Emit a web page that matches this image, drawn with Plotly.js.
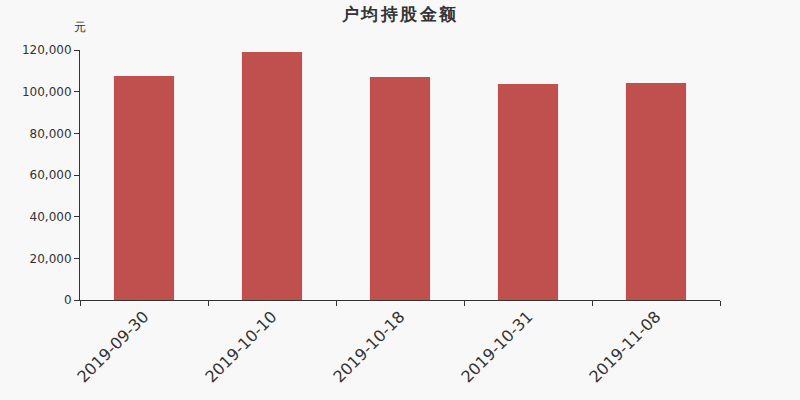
<!DOCTYPE html>
<html>
<head>
<meta charset="utf-8">
<script src="https://cdn.plot.ly/plotly-3.0.1.min.js"></script>
<style>
  html, body { margin: 0; padding: 0; background: #f8f8f8; }
  #chart { width: 800px; height: 400px; }
  .gtitle { letter-spacing: 2.5px; }
</style>
</head>
<body>
<div id="chart"></div>
<script>
// report dates and average holding value per account (yuan)
var dates = ['2019-09-30', '2019-10-10', '2019-10-18', '2019-10-31', '2019-11-08'];
var amounts = [107500, 119000, 107000, 103700, 104200];
var yTicks = [0, 20000, 40000, 60000, 80000, 100000, 120000];
var yTickText = ['0', '20,000', '40,000', '60,000', '80,000', '100,000', '120,000'];

var trace = {
  x: dates,
  y: amounts,
  type: 'bar',
  marker: { color: '#c0504d' },
  hoverinfo: 'x+y'
};

var layout = {
  width: 800,
  height: 400,
  paper_bgcolor: '#f8f8f8',
  plot_bgcolor: '#f8f8f8',
  font: { family: 'DejaVu Sans, sans-serif', color: '#333', size: 12 },
  margin: { l: 80, r: 80, t: 50, b: 100 },
  bargap: 0.53,
  showlegend: false,
  title: {
    text: '<b>户均持股金额</b>',
    x: 0.5,
    xanchor: 'center',
    y: 0.965,
    yanchor: 'middle',
    font: { size: 17, color: '#333' }
  },
  xaxis: {
    type: 'category',
    tickangle: -45,
    tickfont: { size: 16, color: '#333' },
    ticks: 'outside',
    tickson: 'boundaries',
    ticklen: 5,
    tickcolor: '#333',
    showline: true,
    linecolor: '#333',
    showgrid: false,
    zeroline: false
  },
  yaxis: {
    range: [0, 120000],
    tickvals: yTicks,
    ticktext: yTickText,
    tickfont: { size: 12, color: '#333' },
    ticks: 'outside',
    ticklen: 5,
    tickcolor: '#333',
    showline: true,
    linecolor: '#333',
    showgrid: false,
    zeroline: false
  },
  annotations: [{
    text: '元',
    xref: 'paper',
    yref: 'paper',
    x: 0,
    y: 1.09,
    xanchor: 'center',
    yanchor: 'middle',
    showarrow: false,
    font: { size: 12, color: '#333' }
  }]
};

Plotly.newPlot('chart', [trace], layout, { displayModeBar: false });
</script>
</body>
</html>
